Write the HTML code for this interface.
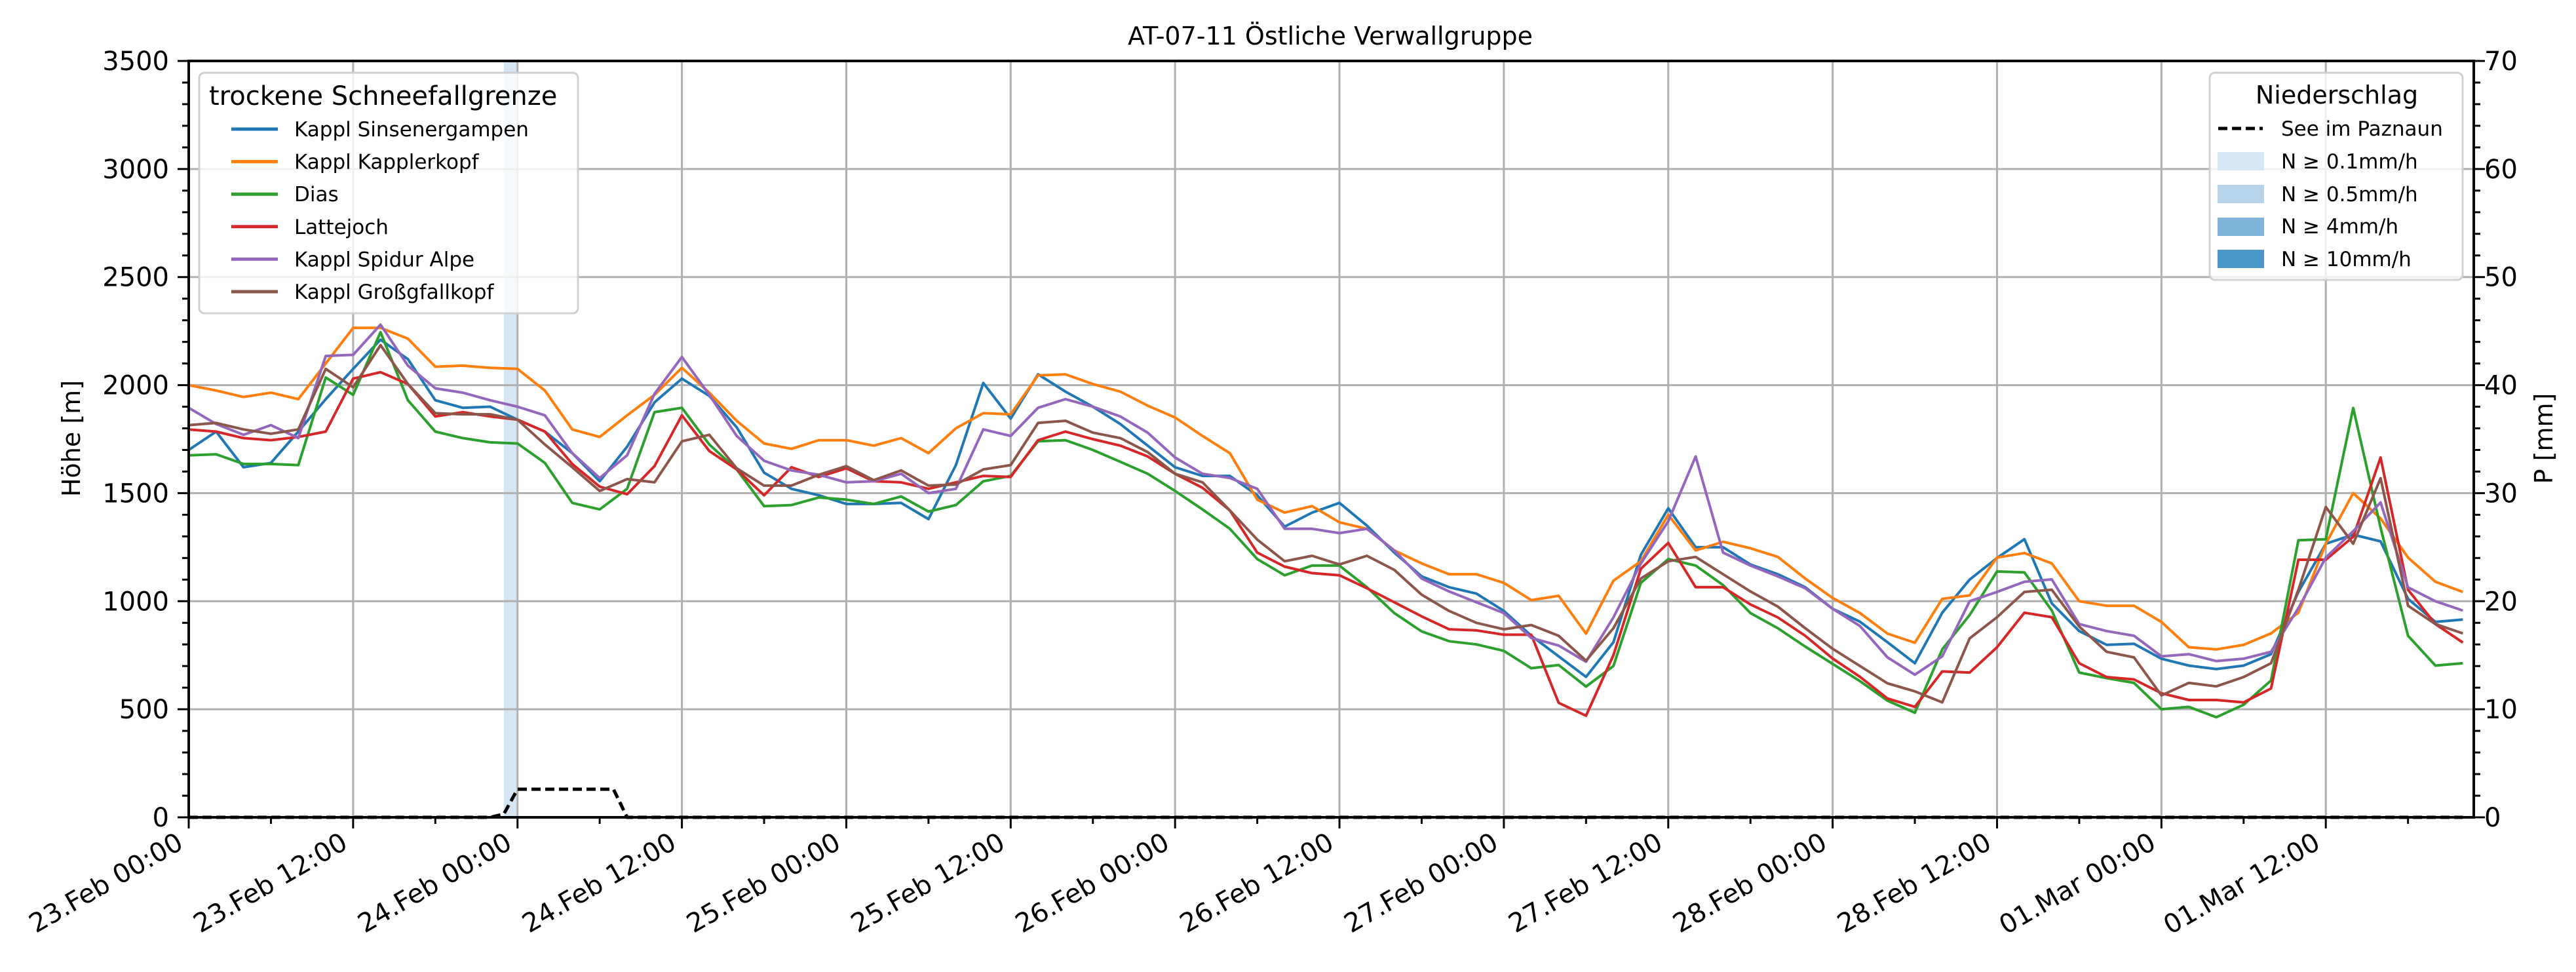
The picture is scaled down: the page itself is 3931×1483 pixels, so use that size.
<!DOCTYPE html>
<html><head><meta charset="utf-8"><style>
html,body{margin:0;padding:0;background:#fff;}
svg{display:block;font-family:"DejaVu Sans","Liberation Sans",sans-serif;}
</style></head><body>
<svg id="chart" width="3931" height="1483" viewBox="0 0 3931 1483" xmlns="http://www.w3.org/2000/svg">
<rect x="0" y="0" width="3931" height="1483" fill="#fff"/>
<g id="bands"></g>
<g id="grid"></g>
<g id="series"></g>
<g id="axes"></g>
<text x="2030" y="68" font-size="38" text-anchor="middle">AT-07-11 Östliche Verwallgruppe</text>
<text transform="translate(122,669) rotate(-90)" font-size="38" text-anchor="middle">Höhe [m]</text>
<text transform="translate(3895,669) rotate(-90)" font-size="38" text-anchor="middle">P [mm]</text>
<g id="legend1">
<rect x="304" y="111" width="578" height="367" rx="8" fill="#fff" fill-opacity="0.8" stroke="#d0d0d0" stroke-width="3"/>
<text x="319" y="160" font-size="40">trockene Schneefallgrenze</text>
</g>
<g id="legend2">
<rect x="3372" y="111" width="386" height="316" rx="8" fill="#fff" fill-opacity="0.8" stroke="#d0d0d0" stroke-width="3"/>
<text x="3566" y="158" font-size="38" text-anchor="middle">Niederschlag</text>
<line x1="3385" y1="196" x2="3453" y2="196" stroke="#000" stroke-width="5" stroke-dasharray="14,7"/>
<text x="3481" y="207" font-size="31">See im Paznaun</text>
<rect x="3384" y="232" width="71" height="28" fill="#d6e6f4"/>
<text x="3481" y="257" font-size="31">N ≥ 0.1mm/h</text>
<rect x="3384" y="282" width="71" height="28" fill="#b8d4ea"/>
<text x="3481" y="307" font-size="31">N ≥ 0.5mm/h</text>
<rect x="3384" y="332" width="71" height="28" fill="#7fb5d8"/>
<text x="3481" y="356" font-size="31">N ≥ 4mm/h</text>
<rect x="3384" y="381" width="71" height="28" fill="#4a98c9"/>
<text x="3481" y="406" font-size="31">N ≥ 10mm/h</text>
</g>
</svg>
<script>
const hours = [];
for (let h = 0; h <= 166; h += 2) hours.push(h);
const seriesNames = ["Kappl Sinsenergampen","Kappl Kapplerkopf","Dias","Lattejoch","Kappl Spidur Alpe","Kappl Großgfallkopf"];
const seriesColors = ["#1f77b4","#ff7f0e","#2ca02c","#d62728","#9467bd","#8c564b"];
const sinsenergampen = [1700,1785,1620,1640,1785,1935,2075,2210,2120,1930,1895,1900,1840,1785,1685,1555,1715,1920,2030,1950,1805,1595,
1520,1490,1450,1450,1455,1380,1630,2010,1845,2050,1970,1900,1820,1720,1620,1580,1580,1490,1345,1410,1455,
1350,1225,1115,1065,1035,955,840,745,650,810,1215,1430,1250,1250,1170,1125,1065,965,905,810,
713,947,1100,1200,1287,990,862,798,803,734,702,686,702,755,1043,1266,1308,1277,1011,904,915];
const kapplerkopf = [2000,1975,1945,1965,1935,2100,2265,2265,2215,2085,2090,2080,2075,1975,1795,1760,1860,1955,2080,1965,1835,1730,
1705,1745,1745,1720,1755,1685,1800,1870,1865,2045,2050,2005,1970,1905,1850,1765,1685,1470,1410,1440,1365,
1335,1235,1175,1125,1125,1085,1005,1025,850,1095,1185,1400,1235,1275,1245,1205,1105,1015,945,850,
808,1011,1027,1202,1223,1175,1000,979,979,904,787,777,798,851,947,1266,1500,1383,1202,1090,1043];
const dias = [1675,1680,1635,1635,1630,2035,1955,2245,1930,1785,1755,1735,1730,1640,1455,1425,1520,1875,1895,1725,1610,1440,
1445,1480,1470,1450,1485,1415,1445,1555,1580,1740,1745,1700,1645,1590,1510,1425,1335,1195,1120,1165,1165,
1065,945,860,815,800,770,690,705,605,700,1085,1195,1165,1075,945,875,790,710,630,540,
484,777,936,1138,1133,957,670,644,622,500,511,463,521,633,1282,1287,1894,1340,840,702,713];
const lattejoch = [1795,1785,1755,1745,1760,1785,2030,2060,2005,1855,1875,1855,1840,1785,1635,1530,1495,1625,1860,1695,1610,1490,
1620,1575,1615,1555,1550,1520,1550,1580,1575,1745,1785,1750,1720,1670,1590,1525,1420,1225,1160,1130,1120,
1060,995,930,870,865,845,845,530,470,750,1150,1270,1065,1065,985,925,840,735,650,550,
511,675,670,787,947,926,713,649,638,574,543,543,532,596,1192,1192,1298,1665,1053,894,809];
const spidurAlpe = [1895,1820,1770,1815,1755,2135,2140,2280,2090,1985,1965,1930,1900,1860,1685,1570,1675,1960,2130,1955,1765,1650,
1605,1585,1550,1555,1590,1500,1520,1795,1765,1895,1935,1900,1855,1780,1665,1590,1570,1520,1335,1335,1315,
1335,1235,1105,1045,995,945,830,795,720,925,1175,1370,1670,1225,1165,1115,1060,965,885,740,
660,745,1000,1043,1090,1101,894,862,840,745,755,723,734,766,968,1202,1324,1457,1064,1000,957];
const grossgfallkopf = [1815,1825,1795,1775,1795,2075,1990,2185,2005,1870,1865,1865,1840,1725,1620,1510,1565,1550,1740,1770,1615,1535,
1535,1585,1625,1560,1605,1535,1540,1610,1630,1825,1835,1780,1755,1690,1590,1550,1420,1285,1185,1210,1170,
1210,1145,1030,955,900,870,890,840,725,875,1105,1185,1205,1125,1045,975,875,780,700,620,
583,532,828,926,1043,1053,883,766,740,564,622,606,649,713,1053,1436,1266,1569,979,894,851];
const precipHours = [0,22,23,24,31,32,166];
const precipValues = [0,0,0.3,2.6,2.6,0,0];
const bandStart = [23];
const bandEnd = [24];
const bandLevel = [0];
const yTicks = [0,500,1000,1500,2000,2500,3000,3500];
const y2Ticks = [0,10,20,30,40,50,60,70];
const xTickHours = [0,12,24,36,48,60,72,84,96,108,120,132,144,156];
const xTickLabels = ["23.Feb 00:00","23.Feb 12:00","24.Feb 00:00","24.Feb 12:00","25.Feb 00:00","25.Feb 12:00","26.Feb 00:00","26.Feb 12:00","27.Feb 00:00","27.Feb 12:00","28.Feb 00:00","28.Feb 12:00","01.Mar 00:00","01.Mar 12:00"];

const L=288,R=3775,T=93,B=1247,HMAX=166.8;
const xS=h=>L+h*(R-L)/HMAX;
const yS=v=>B-v*(B-T)/3500;
const y2S=v=>B-v*(B-T)/70;
const NS="http://www.w3.org/2000/svg";
function mk(tag,attrs,parent){const e=document.createElementNS(NS,tag);for(const k in attrs)e.setAttribute(k,attrs[k]);parent.appendChild(e);return e;}
const bands=document.getElementById('bands'),grid=document.getElementById('grid'),series=document.getElementById('series'),axes=document.getElementById('axes');
const bandColors=["#d6e6f4","#b8d4ea","#7fb5d8","#4a98c9"];
bandStart.forEach((s,i)=>{
  const r=mk('rect',{x:xS(s),y:T,width:xS(bandEnd[i])-xS(s),height:B-T,fill:bandColors[bandLevel[i]]},bands);
  
  
});
yTicks.forEach(v=>{
  const l=mk('line',{x1:L,x2:R,y1:yS(v),y2:yS(v),stroke:'#b0b0b0','stroke-width':3},grid);
  
  
});
xTickHours.forEach(h=>{
  const l=mk('line',{x1:xS(h),x2:xS(h),y1:T,y2:B,stroke:'#b0b0b0','stroke-width':3},grid);
  
  
});
const allSeries=[sinsenergampen,kapplerkopf,dias,lattejoch,spidurAlpe,grossgfallkopf];
allSeries.forEach((vals,i)=>{
  const d=vals.map((v,j)=>(j?'L':'M')+xS(hours[j]).toFixed(1)+','+yS(v).toFixed(1)).join('');
  const p=mk('path',{d:d,fill:'none',stroke:seriesColors[i],'stroke-width':4,'stroke-linejoin':'round'},series);
  
  
});
{
  const d=precipHours.map((h,j)=>(j?'L':'M')+xS(h).toFixed(1)+','+y2S(precipValues[j]).toFixed(1)).join('');
  const p=mk('path',{d:d,fill:'none',stroke:'#000','stroke-width':5,'stroke-dasharray':'14,7'},series);
  
  
}
// legend 1 entries
const lg=document.getElementById('legend1');
seriesNames.forEach((n,i)=>{
  const y=197+i*49.6;
  const l=mk('line',{x1:353,x2:424,y1:y,y2:y,stroke:seriesColors[i],'stroke-width':5},lg);
  
  
  const t=mk('text',{x:449,y:y+11,'font-size':31},lg);
  t.textContent=n;
  
  
});
// frame
const fr=mk('rect',{x:L,y:T,width:R-L,height:B-T,fill:'none',stroke:'#000','stroke-width':4},axes);


yTicks.forEach(v=>{
  mk('line',{x1:L-17,x2:L,y1:yS(v),y2:yS(v),stroke:'#000','stroke-width':3},axes);
  const t=mk('text',{x:L-30,y:yS(v)+14,'font-size':40,'text-anchor':'end'},axes);
  t.textContent=v;
  
  
});
for(let v=0;v<=3500;v+=100){ if(v%500) mk('line',{x1:L-10,x2:L,y1:yS(v),y2:yS(v),stroke:'#000','stroke-width':3},axes); }
y2Ticks.forEach(v=>{
  mk('line',{x1:R,x2:R+17,y1:y2S(v),y2:y2S(v),stroke:'#000','stroke-width':3},axes);
  const t=mk('text',{x:R+16,y:y2S(v)+14,'font-size':40},axes);
  t.textContent=v;
  
  
});
for(let v=0;v<=70;v+=2){ if(v%10) mk('line',{x1:R,x2:R+10,y1:y2S(v),y2:y2S(v),stroke:'#000','stroke-width':3},axes); }
xTickHours.forEach((h,i)=>{
  mk('line',{x1:xS(h),x2:xS(h),y1:B,y2:B+17,stroke:'#000','stroke-width':3},axes);
  mk('line',{x1:xS(h+6),x2:xS(h+6),y1:B,y2:B+10,stroke:'#000','stroke-width':3},axes);
  const x=xS(h)-6,y=B+46;
  const t=mk('text',{x:x,y:y,'font-size':40,'text-anchor':'end',transform:'rotate(-30 '+x+' '+y+')'},axes);
  t.textContent=xTickLabels[i];
  
  
});
</script>
</body></html>
